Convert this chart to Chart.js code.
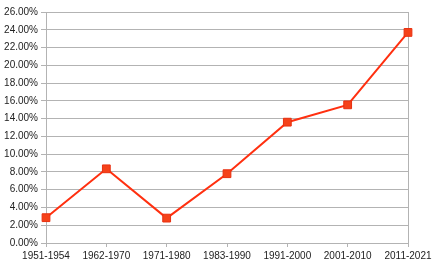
<!DOCTYPE html>
<html>
<head>
<meta charset="utf-8">
<script src="https://cdn.jsdelivr.net/npm/chart.js@4/dist/chart.umd.min.js"></script>
<style>
html,body{margin:0;padding:0;background:#fff;}
#wrap{width:439px;height:268px;position:relative;}
</style>
</head>
<body>
<div id="wrap"><canvas id="c" width="439" height="268"></canvas></div>
<script>
const categories = ["1951-1954","1962-1970","1971-1980","1983-1990","1991-2000","2001-2010","2011-2021"];
const values = [2.85, 8.35, 2.8, 7.8, 13.6, 15.55, 23.7];
const yMin = 0, yMax = 26, yStep = 2;

new Chart(document.getElementById('c'), {
  type: 'line',
  data: {
    labels: categories,
    datasets: [{
      data: values,
      borderColor: '#ff3010',
      borderWidth: 2,
      backgroundColor: '#f5421a',
      pointStyle: 'rect',
      pointRadius: 5.5,
      pointBorderWidth: 1,
      pointBorderColor: '#e83010',
      pointBackgroundColor: '#f5421a',
      tension: 0,
      fill: false
    }]
  },
  options: {
    responsive: false,
    animation: false,
    devicePixelRatio: 1,
    layout: { padding: { left: 0, right: 31, top: 12, bottom: 0 } },
    plugins: { legend: { display: false }, tooltip: { enabled: false } },
    scales: {
      x: {
        offset: false,
        grid: {
          color: (ctx) => ctx.index === categories.length - 1 ? '#b3b3b3' : 'rgba(0,0,0,0)',
          tickColor: '#b3b3b3',
          tickLength: 4,
          lineWidth: 1
        },
        border: { color: '#b3b3b3' },
        ticks: {
          color: '#222',
          font: { family: 'Liberation Sans', size: 10 },
          maxRotation: 0,
          autoSkip: false,
          padding: 3
        },
        afterFit: (s) => { s.height = 25; }
      },
      y: {
        min: yMin, max: yMax,
        grid: { color: '#b3b3b3', tickColor: '#b3b3b3', tickLength: 5, lineWidth: 1 },
        border: { color: '#b3b3b3' },
        ticks: {
          stepSize: yStep,
          color: '#222',
          font: { family: 'Liberation Sans', size: 10 },
          padding: 3,
          callback: (v) => v.toFixed(2) + '%'
        },
        afterFit: (s) => { s.width = 46; }
      }
    }
  }
});
</script>
</body>
</html>
